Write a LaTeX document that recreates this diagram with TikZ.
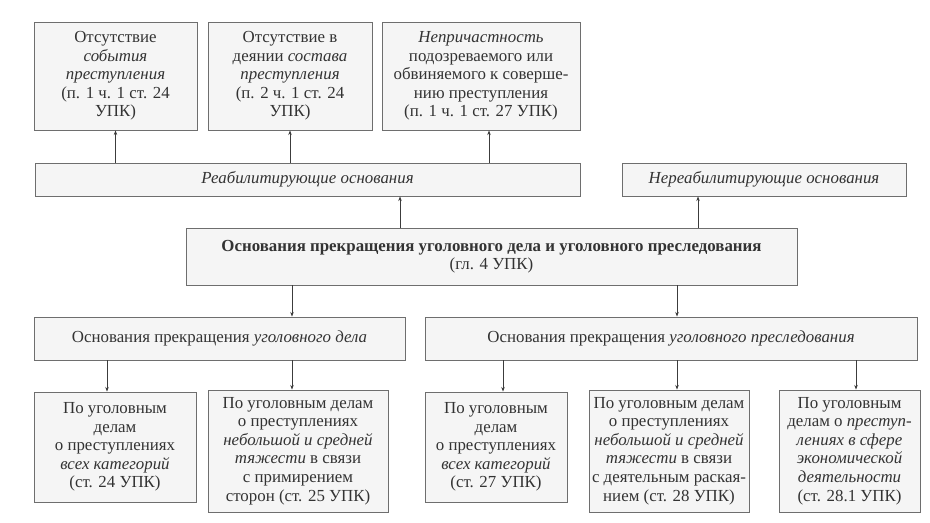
\documentclass[tikz,border=0pt]{standalone}
\usepackage{fontspec}
\setmainfont{Liberation Serif}
\usetikzlibrary{arrows.meta,positioning}
\definecolor{boxFill}{HTML}{F5F5F5}
\definecolor{boxEdge}{HTML}{6E6E6E}
\definecolor{txtCol}{HTML}{333333}
\definecolor{arrCol}{HTML}{3C3C3C}
\tikzset{
  box/.style n args={2}{draw=boxEdge, fill=boxFill, line width=0.7pt, align=center,
        text=txtCol, font=\fontsize{14.4}{15.8}\selectfont, inner sep=1pt,
        minimum width=#1, minimum height=#2},
  arr/.style={-{Stealth[length=4pt,width=3pt]}, draw=arrCol, line width=0.6pt},
}

\begin{document}
\begin{tikzpicture}[x=0.03cm, y=-0.03cm]
  \useasboundingbox (0,0) rectangle (930,522);
  % --- grounds: rehabilitating / non-rehabilitating ---
  \node[box={4.89cm}{3.24cm}] (t1) at (115.5,76)
       {Отсутствие\\\textit{события}\\\textit{преступления}\\(п. 1 ч. 1 ст. 24\\УПК)};
  \node[box={4.92cm}{3.24cm}] (t2) at (290,76)
       {Отсутствие в\\деянии \textit{состава}\\\textit{преступления}\\(п. 2 ч. 1 ст. 24\\УПК)};
  \node[box={5.94cm}{3.24cm}] (t3) at (481,76)
       {\textit{Непричастность}\\подозреваемого или\\обвиняемого к соверше-\\нию преступления\\(п. 1 ч. 1 ст. 27 УПК)};
  \node[box={16.35cm}{0.99cm}] (reab) at (307.5,179.5) {\textit{Реабилитирующие основания}};
  \node[box={8.52cm}{0.99cm}] (nreab) at (764,179.5) {\textit{Нереабилитирующие основания}};
  % --- central node ---
  \node[box={18.33cm}{1.71cm}] (cen) at (491.5,256.5)
       {\textbf{Основания прекращения уголовного дела и уголовного преследования}\\(гл. 4 УПК)};
  % --- case / prosecution ---
  \node[box={11.13cm}{1.29cm}] (caseL) at (219.5,338.5)
       {Основания прекращения \textit{уголовного дела}};
  \node[box={14.76cm}{1.29cm}] (prosR) at (671,338.5)
       {Основания прекращения \textit{уголовного преследования}};
  % --- articles ---
  \node[box={4.86cm}{3.3cm}] (b1) at (115,447)
       {По уголовным\\делам\\о преступлениях\\\textit{всех категорий}\\(ст. 24 УПК)};
  \node[box={5.4cm}{3.66cm}] (b2) at (298,451)
       {По уголовным делам\\о преступлениях\\\textit{небольшой и средней}\\\textit{тяжести} в связи\\с примирением\\сторон (ст. 25 УПК)};
  \node[box={4.26cm}{3.3cm}] (b3) at (496,447)
       {По уголовным\\делам\\о преступлениях\\\textit{всех категорий}\\(ст. 27 УПК)};
  \node[box={4.8cm}{3.66cm}] (b4) at (669,451)
       {По уголовным делам\\о преступлениях\\\textit{небольшой и средней}\\\textit{тяжести} в связи\\с деятельным раская-\\нием (ст. 28 УПК)};
  \node[box={4.23cm}{3.66cm}] (b5) at (849.5,451)
       {По уголовным\\делам о \textit{преступ-}\\\textit{лениях в сфере}\\\textit{экономической}\\\textit{деятельности}\\(ст. 28.1 УПК)};
  % upward edges
  \draw[arr] (cen.north -| 400,0) -- (reab.south -| 400,0);
  \draw[arr] (cen.north -| 698,0) -- (nreab.south -| 698,0);
  \draw[arr] (reab.north -| t1.south) -- (t1.south);
  \draw[arr] (reab.north -| t2.south) -- (t2.south);
  \draw[arr] (reab.north -| 489,0) -- (t3.south -| 489,0);
  % downward edges
  \draw[arr] (cen.south -| 292,0) -- (caseL.north -| 292,0);
  \draw[arr] (cen.south -| 677,0) -- (prosR.north -| 677,0);
  \draw[arr] (caseL.south -| 107,0) -- (b1.north -| 107,0);
  \draw[arr] (caseL.south -| 292,0) -- (b2.north -| 292,0);
  \foreach \b/\x in {b3/503,b4/677,b5/856}
    \draw[arr] (prosR.south -| \x,0) -- (\b.north -| \x,0);
\end{tikzpicture}
\end{document}
